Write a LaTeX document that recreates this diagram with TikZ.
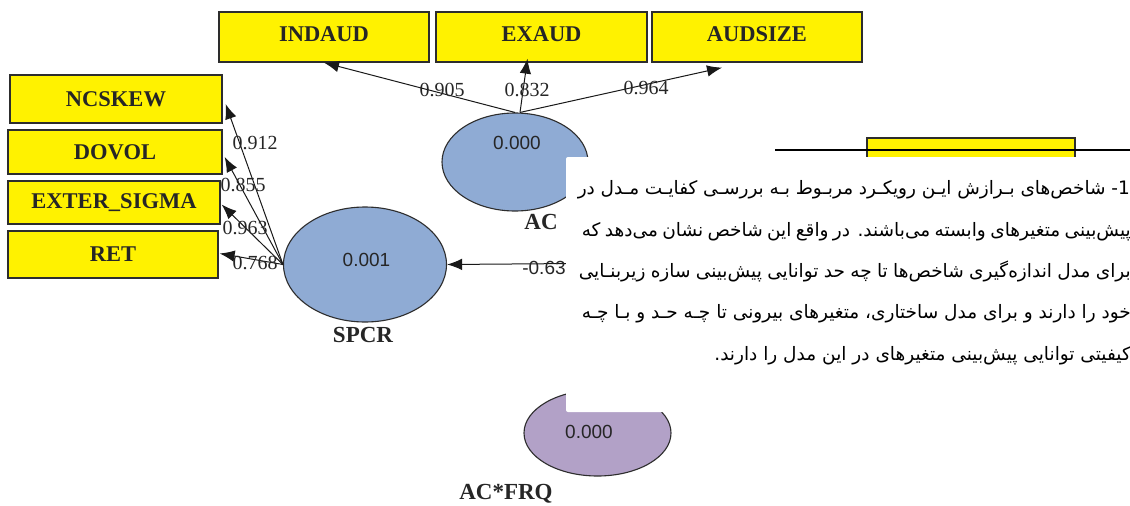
\documentclass[tikz,border=0pt]{standalone}
\usepackage{fontspec}
\usepackage{graphicx}
\setmainfont{Liberation Serif}
\newfontfamily\lsans{Liberation Sans}
\newfontfamily\arabicfont[Script=Arabic]{DejaVu Sans}
\TeXXeTstate=1
\usetikzlibrary{shapes.geometric,arrows.meta,calc}
\definecolor{plsblue}{RGB}{143,171,212}
\definecolor{plspurple}{RGB}{178,161,199}
\definecolor{boxline}{RGB}{45,45,45}
\begin{document}
\begin{tikzpicture}[x=1pt,y=-1pt,
  ind/.style={draw=boxline,fill=yellow,line width=1.3pt,inner sep=0pt,font=\bfseries\fontsize{22.5}{24}\selectfont,text=black!85},
  lv/.style={ellipse,draw=boxline,line width=1.1pt,inner sep=0pt},
  val/.style={font=\lsans\fontsize{19}{21}\selectfont,text=black!85,inner sep=0pt},
  nm/.style={font=\bfseries\fontsize{23}{25}\selectfont,inner sep=0pt,text=black!85},
  coef/.style={font=\fontsize{20}{22}\selectfont,inner sep=0pt,text=black!85},
  arr/.style={-{Latex[length=15pt,width=11.5pt]},line width=1pt,draw=black!90},
  fa/.style={font=\arabicfont\fontsize{18.5}{22}\selectfont,inner sep=0pt,anchor=base east}]
\useasboundingbox (0,0) rectangle (1130,506);
\fill[white] (0,0) rectangle (1130,506);

% indicators
\node[ind,minimum width=210pt,minimum height=50pt,text depth=6pt] (INDAUD) at (324,37) {INDAUD};
\node[ind,minimum width=211pt,minimum height=50pt,text depth=6pt] (EXAUD) at (541.5,37) {EXAUD};
\node[ind,minimum width=210pt,minimum height=50pt,text depth=6pt] (AUDSIZE) at (757,37) {AUDSIZE};
\node[ind,minimum width=212pt,minimum height=48pt] (NCSKEW) at (116,99) {NCSKEW};
\node[ind,minimum width=214pt,minimum height=44pt] (DOVOL) at (115,152) {DOVOL};
\node[ind,minimum width=212pt,minimum height=43pt] (EXTER) at (114,202.5) {EXTER\_SIGMA};
\node[ind,minimum width=210pt,minimum height=47pt] (RET) at (113,254.5) {RET};
\node[ind,minimum width=208pt,minimum height=40pt] (REQ) at (971,158) {};

% latent variables
\node[lv,fill=plsblue,minimum width=146pt,minimum height=98pt] (AC) at (515,162) {};
\node[lv,fill=plsblue,minimum width=163pt,minimum height=115pt] (SPCR) at (365,264.5) {};
\node[lv,fill=plspurple,minimum width=147pt,minimum height=86pt] (ACFRQ) at (597.5,433) {};

\node[val] (ACv) at (517,143) {0.000};
\node[val] (SPCRv) at (366.5,260) {0.001};
\node[val] (ACFRQv) at (589,432) {0.000};

\node[nm] (ACn) at (541,222) {AC};
\node[nm] (SPCRn) at (363,335) {SPCR};
\node[nm] (ACFRQn) at (506,494) {AC*FRQ};

% loadings
\draw[arr] (AC.north) -- (INDAUD.south);
\draw[arr] ($(AC.north)+(5,0)$) -- ($(EXAUD.south)+(-14,-4)$);
\draw[arr] ($(AC.north)+(5,0)$) -- ($(AUDSIZE.south)+(-35,5)$);
\draw[arr] (SPCR.west) -- ($(NCSKEW.east)+(3,5)$);
\draw[arr] (SPCR.west) -- ($(DOVOL.east)+(2,5)$);
\draw[arr] (SPCR.west) -- ($(EXTER.east)+(1,2)$);
\draw[arr] (SPCR.west) -- ($(RET.east)+(1,-1)$);

\node[coef] (l1) at (442,90) {0.905};
\node[coef] (l2) at (527,90) {0.832};
\node[coef] (l3) at (646,88) {0.964};
\node[coef] (l4) at (255,143) {0.912};
\node[coef] (l5) at (243,185) {0.855};
\node[coef] (l6) at (245,228) {0.963};
\node[coef] (l7) at (255,263) {0.768};

% path into SPCR
\coordinate (src) at (640,263);
\draw[arr] (src) -- (SPCR.east);
\node[val] (pc) at (544,268) {-0.63};

% line behind
\coordinate (hl1) at (775,150);
\coordinate (hl2) at (1136,150);
\draw[line width=1.2pt] (hl1) -- (hl2);

% white overlay with text
\fill[white,rounded corners=2pt] (566,157) rectangle (1140,412);
\node[fa] (t1) at (1130,194) {\makebox[552pt][s]{\beginR 1- شاخص‌های بـرازش ایـن رویکـرد مربـوط بـه بررسـی کفایـت مـدل در\endR}};
\node[fa] (t2) at (1131,236) {\makebox[549pt][s]{\beginR پیش‌بینی متغیرهای وابسته می‌باشند. در واقع این شاخص نشان می‌دهد که\endR}};
\node[fa] (t3) at (1131,277) {\makebox[552pt][s]{\beginR برای مدل اندازه‌گیری شاخص‌ها تا چه حد توانایی پیش‌بینی سازه زیربنـایی\endR}};
\node[fa] (t4) at (1131,318) {\makebox[549pt][s]{\beginR خود را دارند و برای مدل ساختاری، متغیرهای بیرونی تا چـه حـد و بـا چـه\endR}};
\node[fa] (t5) at (1131,360) {\beginR کیفیتی توانایی پیش‌بینی متغیرهای در این مدل را دارند.\endR};
\end{tikzpicture}
\end{document}
